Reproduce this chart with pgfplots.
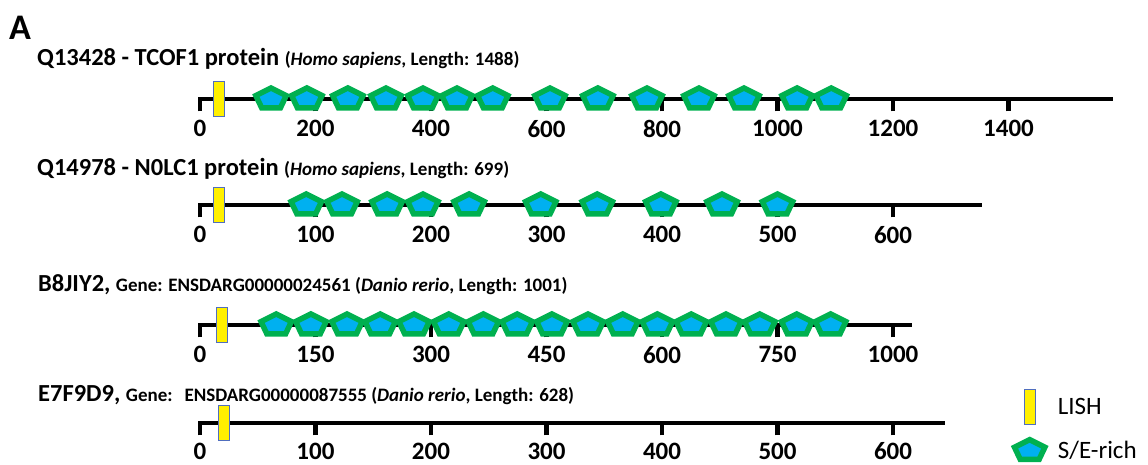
\documentclass[border=0pt]{standalone}
\usepackage{pgfplots}
\pgfplotsset{compat=1.18}
\usepackage{fontspec}
\setmainfont{Carlito}
\definecolor{segreen}{RGB}{0,176,80}
\definecolor{seblue}{RGB}{0,176,240}
\definecolor{lishyel}{RGB}{255,240,0}
\definecolor{lishbd}{RGB}{80,110,190}
\pgfdeclareplotmark{sepent}{%
  \pgfpathmoveto{\pgfqpoint{0pt}{11pt}}%
  \pgfpathlineto{\pgfqpoint{-15.2pt}{3.4pt}}%
  \pgfpathlineto{\pgfqpoint{-9.4pt}{-8.8pt}}%
  \pgfpathlineto{\pgfqpoint{9.4pt}{-8.8pt}}%
  \pgfpathlineto{\pgfqpoint{15.2pt}{3.4pt}}%
  \pgfpathclose
  \pgfusepathqfillstroke}
\pgfdeclareplotmark{lish}{%
  \pgfpathrectangle{\pgfqpoint{-5.5pt}{-17.5pt}}{\pgfqpoint{11pt}{35pt}}%
  \pgfusepathqfillstroke}
\pgfplotsset{
  prot/.style={
    anchor=south west, y=1pt, ymin=0, ymax=1, xmin=0,
    hide y axis, axis x line*=bottom, clip=false,
    x axis line style={line width=4.7pt, line cap=rect, black},
    xtick align=outside, major tick length=12.5pt,
    major tick style={line width=4.7pt, black},
    xticklabel style={font=\fontsize{25}{30}\selectfont\bfseries, anchor=north, inner sep=0pt, yshift=-8.5pt},
    /pgf/number format/assume math mode=true,
  },
  pent/.style={only marks, mark=sepent, mark options={fill=seblue, draw=segreen, line width=5.5pt, line join=miter}, forget plot},
  lishp/.style={only marks, mark=lish, mark options={fill=lishyel, draw=lishbd, line width=1pt}, forget plot},
}
\newcommand{\bigt}{\fontsize{24.5}{28}\selectfont\bfseries}
\newcommand{\smlt}{\fontsize{19}{22}\selectfont\bfseries}
\begin{document}
\begin{tikzpicture}
\path[use as bounding box] (0,0) rectangle (1148pt,465pt);
\node[anchor=base west, inner sep=0pt] at (9pt,425pt) {\fontsize{36}{40}\selectfont\bfseries A};
\node[anchor=base west, inner sep=0pt] at (37pt,399pt) {\bigt Q13428 - TCOF1 protein {\smlt (\textit{Homo sapiens}, Length: 1488)}};
\node[anchor=base west, inner sep=0pt] at (37pt,289pt) {\bigt Q14978 - N0LC1 protein {\smlt (\textit{Homo sapiens}, Length: 699)}};
\node[anchor=base west, inner sep=0pt] at (38pt,173pt) {\bigt B8JIY2, {\smlt Gene: ENSDARG00000024561 (\textit{Danio rerio}, Length: 1001)}};
\node[anchor=base west, inner sep=0pt] at (38pt,63pt) {\bigt E7F9D9, {\smlt Gene:\hspace{12pt}ENSDARG00000087555 (\textit{Danio rerio}, Length: 628)}};

% Row 1
\begin{axis}[prot, at={(200pt,366pt)}, x=0.5775pt, xmax=1576,
  xtick={0,200,400,600,800,1000,1200,1400}, xticklabels={0,200,400,600,800,1000,1200,1400}]
\addplot[lishp] coordinates {(33,0)};
\addplot[pent] coordinates {(123,0)(185,0)(256,0)(322,0)(386,0)(445,0)(507,0)(606,0)(689,0)(774,0)(864,0)(942,0)(1034,0)(1093,0)};
\end{axis}
% Row 2
\begin{axis}[prot, at={(200pt,260pt)}, x=1.155pt, xmax=675,
  xtick={0,100,200,300,400,500,600}, xticklabels={0,100,200,300,400,500,600}]
\addplot[lishp] coordinates {(16.5,0)};
\addplot[pent] coordinates {(92,0)(123,0)(162,0)(193,0)(233,0)(295,0)(344,0)(399,0)(452,0)(500,0)};
\end{axis}
% Row 3
\begin{axis}[prot, at={(200pt,140pt)}, x=0.77pt, xmax=921,
  xtick={0,150,300,450,600,750,900}, xticklabels={0,150,300,450,600,750,1000}]
\addplot[lishp] coordinates {(28,0)};
\addplot[pent] coordinates {(99,0)(144,0)(191,0)(234,0)(278,0)(323,0)(368,0)(412,0)(457,0)(504,0)(549,0)(594,0)(638,0)(683,0)(727,0)(775,0)(819,0)};
\end{axis}
% Row 4
\begin{axis}[prot, at={(200pt,42pt)}, x=1.155pt, xmax=643,
  xtick={0,100,200,300,400,500,600}, xticklabels={0,100,200,300,400,500,600},
  xticklabel style={yshift=1.5pt},
  legend style={at={(axis cs:705,34)}, anchor=north west, draw=none, fill=none,
    font=\fontsize{25}{30}\selectfont, row sep=15pt, column sep=11pt, inner sep=0pt},
  legend cell align=left]
\addplot[lishp] coordinates {(21,0)};
\addlegendimage{only marks, mark=lish, mark options={fill=lishyel, draw=lishbd, line width=1pt}}
\addlegendentry{LISH}
\addlegendimage{only marks, mark=sepent, mark options={fill=seblue, draw=segreen, line width=5.5pt, line join=miter}}
\addlegendentry{S/E-rich}
\end{axis}
\end{tikzpicture}
\end{document}
